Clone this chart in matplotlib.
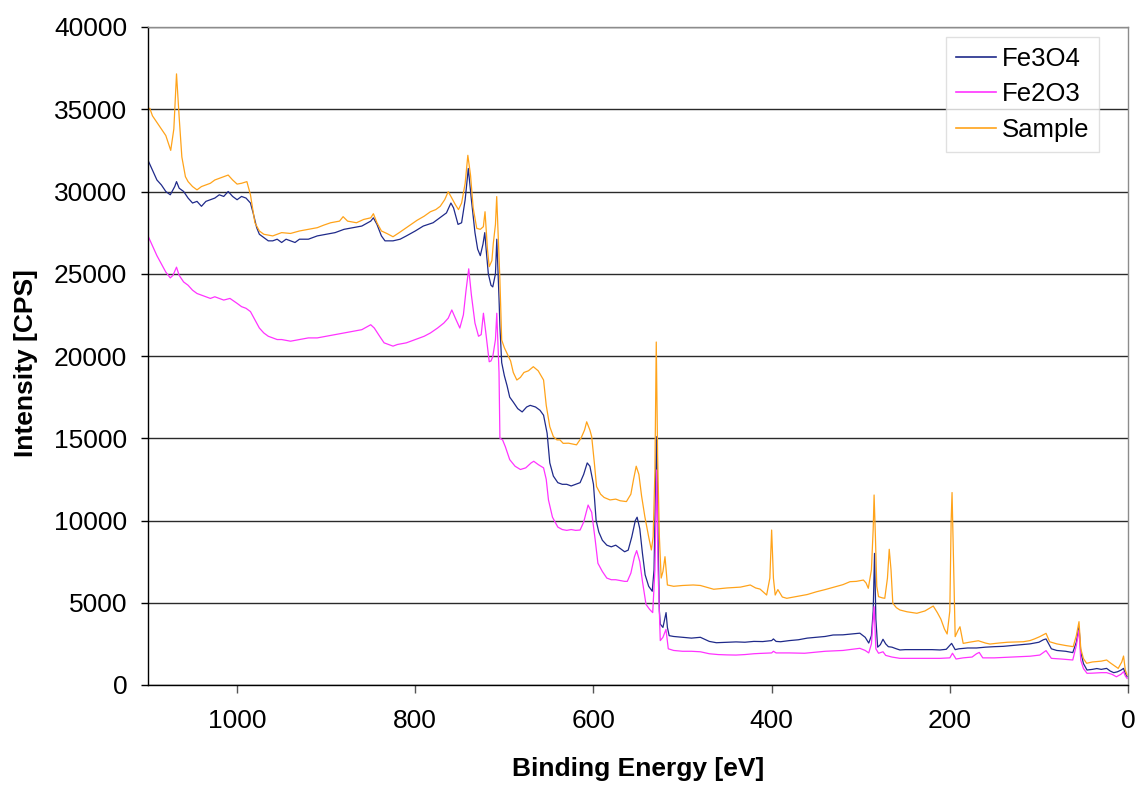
import matplotlib
matplotlib.use("Agg")
import matplotlib.pyplot as plt

# ---------------- data ----------------
fe3o4_be = [1100, 1095, 1090, 1085, 1080, 1075, 1070, 1068, 1065, 1060, 1055, 1050, 1045, 1040,
            1035, 1030, 1025, 1020, 1015, 1010, 1005, 1000, 995, 990, 985, 982, 978, 975, 970,
            965, 960, 955, 950, 945, 940, 935, 930, 920, 910, 900, 890, 880, 870, 860, 850, 847,
            843, 838, 834, 825, 817, 810, 800, 791, 780, 770, 765, 760, 757, 752, 748, 744, 740.5,
            737, 733, 730, 727, 724, 722, 720, 718, 715, 713, 710, 708.5, 706, 705, 703, 700, 697,
            694, 690, 685, 680, 675, 671, 665, 660, 656, 652, 649, 645, 640, 635, 630, 625, 620,
            615, 611, 607, 604, 600, 597, 594, 590, 585, 580, 575, 570, 565, 561, 557, 553, 551,
            548, 545, 542, 538, 534, 532, 530, 529, 527.5, 526, 525, 522, 520, 518.5, 517, 515,
            510, 500, 490, 480, 470, 462, 450, 440, 430, 420, 410, 400, 398, 395, 390, 380, 370,
            360, 350, 340, 331, 320, 310, 301, 295, 291, 288, 286, 284.5, 283, 281, 278, 275, 272,
            269, 265, 260, 256, 250, 240, 230, 220, 211, 204, 198, 194, 190, 180, 170, 160, 150,
            140, 130, 120, 110, 100, 95, 92, 89, 86, 80, 70, 62, 58, 55, 53, 50, 46, 40, 35, 30,
            24, 20, 16, 12, 8, 5, 3, 1]
fe3o4_cps = [31900, 31300, 30700, 30400, 30000, 29800, 30300, 30600, 30200, 30000, 29600, 29300,
             29400, 29100, 29400, 29500, 29600, 29800, 29700, 30000, 29700, 29500, 29700, 29600,
             29300, 28700, 27800, 27400, 27200, 27000, 27000, 27100, 26900, 27100, 27000, 26900,
             27100, 27100, 27300, 27400, 27500, 27700, 27800, 27900, 28200, 28400, 28000, 27300,
             27000, 27000, 27100, 27300, 27600, 27900, 28100, 28500, 28700, 29300, 29000, 28000,
             28100, 29500, 31400, 29500, 27500, 26500, 26100, 26800, 27500, 26200, 25000, 24300,
             24200, 25000, 27100, 23500, 21800, 19600, 18800, 18200, 17500, 17200, 16800, 16600,
             16900, 17000, 16900, 16700, 16400, 15300, 13500, 12700, 12300, 12200, 12200, 12100,
             12200, 12300, 12800, 13500, 13300, 12200, 10000, 9300, 8800, 8500, 8400, 8500, 8300,
             8100, 8200, 9000, 10000, 10200, 9500, 8000, 6700, 6000, 5700, 7000, 13000, 15100,
             9000, 4500, 3700, 3500, 4000, 4400, 3500, 3000, 2950, 2900, 2850, 2900, 2650, 2570,
             2600, 2620, 2600, 2650, 2640, 2700, 2800, 2650, 2630, 2700, 2750, 2850, 2900, 2950,
             3040, 3050, 3100, 3150, 2900, 2550, 3000, 4500, 8000, 4000, 2300, 2450, 2780, 2500,
             2330, 2300, 2200, 2130, 2150, 2150, 2150, 2150, 2130, 2170, 2530, 2150, 2200, 2250,
             2250, 2300, 2330, 2350, 2400, 2450, 2500, 2600, 2750, 2800, 2500, 2200, 2100, 2050,
             1970, 2600, 3540, 2000, 1300, 910, 950, 1000, 950, 1010, 850, 750, 800, 900, 1010,
             700, 500]

fe2o3_be = [1100, 1095, 1090, 1085, 1080, 1075, 1072, 1068, 1065, 1060, 1055, 1050, 1045, 1040,
            1035, 1030, 1025, 1020, 1015, 1008, 1000, 995, 990, 985, 980, 975, 970, 965, 960, 955,
            950, 940, 930, 920, 910, 900, 890, 880, 870, 860, 850, 846, 840, 835, 830, 825, 820,
            810, 800, 790, 783, 775, 768, 763, 759, 755, 750, 746, 743, 740, 737, 733, 729, 726,
            723.5, 721, 717, 715, 713, 710, 708.5, 706, 705, 702, 699, 694, 688, 682, 676, 670,
            667, 662, 656, 653, 650.5, 646, 640, 635, 630, 625, 620, 615, 611, 606, 602, 598, 595,
            590, 585, 580, 575, 570, 565, 562, 558, 554, 551.5, 548, 545, 541, 537, 533.5, 531,
            529, 527.5, 525, 522, 518.6, 516, 510, 500, 490, 480, 470, 460, 450, 440, 430, 420,
            413, 400, 398, 395, 380, 363, 350, 340, 320, 301, 295, 291, 288, 285, 283, 280, 275,
            272, 265, 256, 240, 218, 211, 200, 197, 193, 185, 175, 170, 167, 163, 150, 130, 110,
            99, 92, 86, 75, 62, 58, 55, 53, 50, 46, 40, 30, 24, 18, 13, 8, 5, 3, 1]
fe2o3_cps = [27300, 26700, 26100, 25600, 25100, 24750, 24900, 25400, 24900, 24500, 24300, 24000,
             23800, 23700, 23600, 23500, 23600, 23500, 23400, 23500, 23200, 23000, 22900, 22700,
             22200, 21700, 21400, 21200, 21100, 21000, 21000, 20900, 21000, 21100, 21100, 21200,
             21300, 21400, 21500, 21600, 21900, 21700, 21200, 20800, 20700, 20600, 20700, 20800,
             21000, 21200, 21400, 21700, 22000, 22300, 22800, 22300, 21700, 22500, 24000, 25300,
             23700, 22000, 21200, 21300, 22600, 21500, 19650, 19700, 19960, 21000, 22600, 19000,
             15000, 14900, 14500, 13700, 13300, 13100, 13200, 13500, 13600, 13400, 13200, 12500,
             11250, 10200, 9600, 9450, 9400, 9450, 9400, 9420, 9900, 10940, 10500, 8800, 7400,
             6900, 6500, 6400, 6400, 6350, 6300, 6300, 6800, 7800, 8170, 7500, 6300, 4900, 4600,
             4400, 7000, 13070, 7000, 2700, 2900, 3380, 2200, 2100, 2050, 2050, 2020, 1900, 1850,
             1830, 1820, 1850, 1900, 1920, 1950, 2050, 1950, 1950, 1930, 2000, 2050, 2100, 2230,
             2100, 1950, 2500, 4760, 2200, 1930, 2020, 1800, 1700, 1620, 1620, 1620, 1620, 1650,
             1930, 1580, 1650, 1700, 1900, 1980, 1650, 1650, 1700, 1750, 1820, 2090, 1620, 1580,
             1520, 2400, 3340, 1500, 1000, 710, 720, 750, 750, 650, 500, 650, 810, 550, 400]

sample_be = [1100, 1098, 1095, 1090, 1085, 1080, 1077, 1074.5, 1071, 1068, 1065, 1062, 1058, 1055,
             1050, 1045, 1040, 1035, 1030, 1025, 1020, 1015, 1010, 1005, 1000, 995, 989, 985, 980,
             975, 970, 960, 950, 940, 930, 920, 910, 903, 895, 885, 881, 876, 866, 858, 850, 847,
             843, 838, 832, 825, 818, 810, 798, 790, 783, 777, 772, 767, 763, 760, 755, 751.5, 748,
             744, 741, 738, 735, 731, 727, 723.6, 721.7, 719, 717, 714, 712.4, 710, 708.6, 706, 705,
             703, 700, 697, 693, 690, 686, 682, 678, 673, 667.5, 662, 656, 653, 649, 645, 641,
             637.6, 634, 628, 619, 614, 610, 607.6, 604, 602, 599, 596.5, 592, 588, 581.4, 575,
             570, 563, 558, 555, 552, 549, 546, 542.3, 538, 535, 533, 531, 529.5, 528, 526, 524,
             522, 519.7, 517, 510, 500, 488, 480, 465, 450, 435, 424, 418, 413, 405.6, 402, 400,
             398, 396, 393, 388, 383, 370, 360, 349.5, 340, 330, 320, 312, 305, 297, 294, 291.5,
             288, 286, 285, 283.5, 282, 280, 276, 273, 270, 268, 266, 264, 260, 256, 248, 237,
             228, 218.6, 214, 210, 206, 203, 200, 198.5, 197.5, 196, 194, 191, 188.6, 185, 178,
             168, 160, 155, 145, 135, 125, 117.6, 110, 105, 99, 92, 88, 80, 70, 61.5, 58, 55, 53,
             50, 46.4, 40, 30, 24, 20, 16.5, 11, 7, 5, 3, 1]
sample_cps = [35000, 35060, 34600, 34200, 33800, 33400, 32900, 32500, 33800, 37150, 34500, 32100,
              30900, 30600, 30300, 30100, 30300, 30400, 30500, 30700, 30800, 30900, 31000, 30700,
              30450, 30500, 30600, 29800, 28100, 27600, 27400, 27300, 27500, 27450, 27600, 27700,
              27800, 27950, 28100, 28200, 28470, 28200, 28100, 28300, 28400, 28650, 28100, 27600,
              27450, 27250, 27500, 27800, 28250, 28500, 28770, 28900, 29100, 29500, 29990, 29700,
              29200, 28900, 29300, 30500, 32200, 31000, 29000, 27760, 27700, 27860, 28770, 26500,
              25430, 25800, 26850, 28000, 29690, 26000, 24600, 20970, 20500, 20160, 19700, 19000,
              18540, 18700, 19000, 19100, 19350, 19100, 18540, 17000, 15700, 15100, 14900, 14900,
              14690, 14700, 14600, 15000, 15500, 16000, 15500, 15100, 13500, 12060, 11600, 11400,
              11250, 11300, 11200, 11150, 11600, 12500, 13300, 12800, 11500, 10230, 9000, 8210,
              9000, 13000, 20850, 14000, 9000, 6500, 6900, 7800, 6080, 6000, 6050, 6080, 6050,
              5820, 5900, 5950, 6080, 5900, 5830, 5470, 6500, 9420, 6500, 5470, 5800, 5350, 5270,
              5400, 5500, 5670, 5800, 5950, 6100, 6280, 6300, 6380, 6200, 5880, 7000, 9500, 11550,
              9000, 6000, 5370, 5300, 5270, 6500, 8250, 7000, 4970, 4700, 4560, 4450, 4360, 4500,
              4800, 4400, 4000, 3400, 3100, 4500, 10000, 11700, 8000, 2940, 3300, 3540, 2530, 2600,
              2690, 2550, 2490, 2550, 2600, 2620, 2630, 2700, 2800, 2940, 3140, 2630, 2500, 2400,
              2330, 3000, 3850, 2200, 1600, 1320, 1400, 1450, 1520, 1350, 1220, 1010, 1400, 1760,
              900, 610]

series_names = ["Fe3O4", "Fe2O3", "Sample"]
series_colors = ["#1f2a8a", "#ff33ff", "#ffa31a"]
y_ticks = [0, 5000, 10000, 15000, 20000, 25000, 30000, 35000, 40000]
x_ticks = [1000, 800, 600, 400, 200, 0]

# ---------------- figure ----------------
plt.rcParams['font.family'] = ['Liberation Sans', 'DejaVu Sans']
fig = plt.figure(figsize=(11.35, 7.86), dpi=100)
ax = fig.add_axes([148 / 1135, 1 - 685 / 786, 980 / 1135, 658 / 786])

for be, cps, name, col in zip([fe3o4_be, fe2o3_be, sample_be],
                              [fe3o4_cps, fe2o3_cps, sample_cps],
                              series_names, series_colors):
    ax.plot(be, cps, color=col, lw=0.9, label=name)

ax.set_xlim(1100, 0)
ax.set_ylim(0, 40000)
ax.set_xticks(x_ticks)
ax.set_xticklabels([str(v) for v in x_ticks])
ax.set_yticks(y_ticks)
ax.set_yticklabels([str(v) for v in y_ticks])

ax.yaxis.grid(True, color="#2a2a2a", lw=1.0)
ax.set_axisbelow(True)

for s in ("top", "right"):
    ax.spines[s].set_color("#8c8c8c")
    ax.spines[s].set_linewidth(1.0)
for s in ("left", "bottom"):
    ax.spines[s].set_color("black")
    ax.spines[s].set_linewidth(1.0)

ax.tick_params(axis="y", direction="out", length=5, width=1, pad=10, labelsize=19)
ax.tick_params(axis="x", direction="out", length=5.5, width=1, pad=12, labelsize=19, color="#555555")

ax.set_xlabel("Binding Energy [eV]", fontsize=19, fontweight="bold")
ax.set_ylabel("Intensity [CPS]", fontsize=19, fontweight="bold")
ax.xaxis.set_label_coords(0.5, -0.11)
ax.yaxis.set_label_coords(-0.112, 0.49)

leg = ax.legend(loc="upper left", bbox_to_anchor=(946 / 1135, 1 - 37 / 786),
                bbox_transform=fig.transFigure, borderaxespad=0, fontsize=18.5,
                frameon=True, fancybox=False, handlelength=1.55, handletextpad=0.25,
                labelspacing=0.45, borderpad=0.38)
leg.get_frame().set_edgecolor("#d9d9d9")
leg.get_frame().set_linewidth(1.0)
for line in leg.get_lines():
    line.set_linewidth(1.2)

fig.savefig("out.png", dpi=100)
